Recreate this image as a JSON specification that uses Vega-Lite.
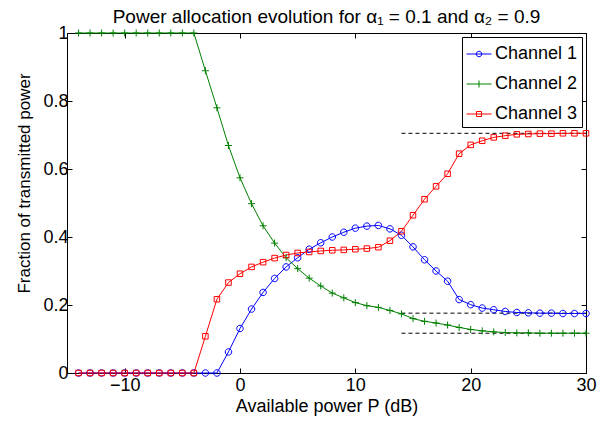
{
  "$schema": "https://vega.github.io/schema/vega-lite/v6.json",
  "width": 519,
  "height": 340,
  "autosize": {"type": "none"},
  "padding": {"left": 67, "top": 33, "right": 25, "bottom": 49},
  "background": "white",
  "title": {
    "text": "Power allocation evolution for α₁ = 0.1 and α₂ = 0.9",
    "font": "Liberation Sans",
    "fontSize": 19,
    "fontWeight": "normal",
    "color": "black",
    "anchor": "middle",
    "frame": "group",
    "offset": 8,
    "dy": 11
  },
  "config": {
    "view": {"stroke": "black", "strokeWidth": 1},
    "axis": {
      "labelFont": "Liberation Sans",
      "titleFont": "Liberation Sans",
      "labelFontSize": 18,
      "titleFontSize": 18,
      "titleFontWeight": "normal",
      "labelColor": "black",
      "titleColor": "black",
      "domain": false,
      "tickColor": "black",
      "gridColor": "#9a9a9a",
      "gridDash": [1, 3],
      "gridWidth": 1
    },
    "legend": {
      "labelFont": "Liberation Sans",
      "labelFontSize": 18,
      "labelColor": "black"
    }
  },
  "datasets": {
    "series": [
      {"P": -14, "ch": "Channel 1", "v": 0}, {"P": -13, "ch": "Channel 1", "v": 0}, {"P": -12, "ch": "Channel 1", "v": 0}, {"P": -11, "ch": "Channel 1", "v": 0}, {"P": -10, "ch": "Channel 1", "v": 0}, {"P": -9, "ch": "Channel 1", "v": 0}, {"P": -8, "ch": "Channel 1", "v": 0}, {"P": -7, "ch": "Channel 1", "v": 0}, {"P": -6, "ch": "Channel 1", "v": 0}, {"P": -5, "ch": "Channel 1", "v": 0}, {"P": -4, "ch": "Channel 1", "v": 0}, {"P": -3, "ch": "Channel 1", "v": 0}, {"P": -2, "ch": "Channel 1", "v": 0},
      {"P": -1, "ch": "Channel 1", "v": 0.062}, {"P": 0, "ch": "Channel 1", "v": 0.131}, {"P": 1, "ch": "Channel 1", "v": 0.188}, {"P": 2, "ch": "Channel 1", "v": 0.237}, {"P": 3, "ch": "Channel 1", "v": 0.278}, {"P": 4, "ch": "Channel 1", "v": 0.312}, {"P": 5, "ch": "Channel 1", "v": 0.339}, {"P": 6, "ch": "Channel 1", "v": 0.364}, {"P": 7, "ch": "Channel 1", "v": 0.383}, {"P": 8, "ch": "Channel 1", "v": 0.400}, {"P": 9, "ch": "Channel 1", "v": 0.414}, {"P": 10, "ch": "Channel 1", "v": 0.426}, {"P": 11, "ch": "Channel 1", "v": 0.432}, {"P": 12, "ch": "Channel 1", "v": 0.434}, {"P": 13, "ch": "Channel 1", "v": 0.424}, {"P": 14, "ch": "Channel 1", "v": 0.405}, {"P": 15, "ch": "Channel 1", "v": 0.371}, {"P": 16, "ch": "Channel 1", "v": 0.333}, {"P": 17, "ch": "Channel 1", "v": 0.300}, {"P": 18, "ch": "Channel 1", "v": 0.270}, {"P": 19, "ch": "Channel 1", "v": 0.216}, {"P": 20, "ch": "Channel 1", "v": 0.201}, {"P": 21, "ch": "Channel 1", "v": 0.191}, {"P": 22, "ch": "Channel 1", "v": 0.186}, {"P": 23, "ch": "Channel 1", "v": 0.181}, {"P": 24, "ch": "Channel 1", "v": 0.178}, {"P": 25, "ch": "Channel 1", "v": 0.177}, {"P": 26, "ch": "Channel 1", "v": 0.176}, {"P": 27, "ch": "Channel 1", "v": 0.176}, {"P": 28, "ch": "Channel 1", "v": 0.175}, {"P": 29, "ch": "Channel 1", "v": 0.175}, {"P": 30, "ch": "Channel 1", "v": 0.175},
      {"P": -14, "ch": "Channel 2", "v": 1}, {"P": -13, "ch": "Channel 2", "v": 1}, {"P": -12, "ch": "Channel 2", "v": 1}, {"P": -11, "ch": "Channel 2", "v": 1}, {"P": -10, "ch": "Channel 2", "v": 1}, {"P": -9, "ch": "Channel 2", "v": 1}, {"P": -8, "ch": "Channel 2", "v": 1}, {"P": -7, "ch": "Channel 2", "v": 1}, {"P": -6, "ch": "Channel 2", "v": 1}, {"P": -5, "ch": "Channel 2", "v": 1}, {"P": -4, "ch": "Channel 2", "v": 1},
      {"P": -3, "ch": "Channel 2", "v": 0.889}, {"P": -2, "ch": "Channel 2", "v": 0.780}, {"P": -1, "ch": "Channel 2", "v": 0.669}, {"P": 0, "ch": "Channel 2", "v": 0.574}, {"P": 1, "ch": "Channel 2", "v": 0.498}, {"P": 2, "ch": "Channel 2", "v": 0.433}, {"P": 3, "ch": "Channel 2", "v": 0.382}, {"P": 4, "ch": "Channel 2", "v": 0.339}, {"P": 5, "ch": "Channel 2", "v": 0.307}, {"P": 6, "ch": "Channel 2", "v": 0.279}, {"P": 7, "ch": "Channel 2", "v": 0.256}, {"P": 8, "ch": "Channel 2", "v": 0.235}, {"P": 9, "ch": "Channel 2", "v": 0.221}, {"P": 10, "ch": "Channel 2", "v": 0.207}, {"P": 11, "ch": "Channel 2", "v": 0.198}, {"P": 12, "ch": "Channel 2", "v": 0.193}, {"P": 13, "ch": "Channel 2", "v": 0.184}, {"P": 14, "ch": "Channel 2", "v": 0.174}, {"P": 15, "ch": "Channel 2", "v": 0.160}, {"P": 16, "ch": "Channel 2", "v": 0.152}, {"P": 17, "ch": "Channel 2", "v": 0.147}, {"P": 18, "ch": "Channel 2", "v": 0.141}, {"P": 19, "ch": "Channel 2", "v": 0.134}, {"P": 20, "ch": "Channel 2", "v": 0.128}, {"P": 21, "ch": "Channel 2", "v": 0.124}, {"P": 22, "ch": "Channel 2", "v": 0.121}, {"P": 23, "ch": "Channel 2", "v": 0.119}, {"P": 24, "ch": "Channel 2", "v": 0.118}, {"P": 25, "ch": "Channel 2", "v": 0.118}, {"P": 26, "ch": "Channel 2", "v": 0.117}, {"P": 27, "ch": "Channel 2", "v": 0.117}, {"P": 28, "ch": "Channel 2", "v": 0.117}, {"P": 29, "ch": "Channel 2", "v": 0.117}, {"P": 30, "ch": "Channel 2", "v": 0.117},
      {"P": -14, "ch": "Channel 3", "v": 0}, {"P": -13, "ch": "Channel 3", "v": 0}, {"P": -12, "ch": "Channel 3", "v": 0}, {"P": -11, "ch": "Channel 3", "v": 0}, {"P": -10, "ch": "Channel 3", "v": 0}, {"P": -9, "ch": "Channel 3", "v": 0}, {"P": -8, "ch": "Channel 3", "v": 0}, {"P": -7, "ch": "Channel 3", "v": 0}, {"P": -6, "ch": "Channel 3", "v": 0}, {"P": -5, "ch": "Channel 3", "v": 0}, {"P": -4, "ch": "Channel 3", "v": 0},
      {"P": -3, "ch": "Channel 3", "v": 0.108}, {"P": -2, "ch": "Channel 3", "v": 0.217}, {"P": -1, "ch": "Channel 3", "v": 0.266}, {"P": 0, "ch": "Channel 3", "v": 0.292}, {"P": 1, "ch": "Channel 3", "v": 0.312}, {"P": 2, "ch": "Channel 3", "v": 0.326}, {"P": 3, "ch": "Channel 3", "v": 0.338}, {"P": 4, "ch": "Channel 3", "v": 0.347}, {"P": 5, "ch": "Channel 3", "v": 0.353}, {"P": 6, "ch": "Channel 3", "v": 0.356}, {"P": 7, "ch": "Channel 3", "v": 0.359}, {"P": 8, "ch": "Channel 3", "v": 0.361}, {"P": 9, "ch": "Channel 3", "v": 0.362}, {"P": 10, "ch": "Channel 3", "v": 0.364}, {"P": 11, "ch": "Channel 3", "v": 0.366}, {"P": 12, "ch": "Channel 3", "v": 0.370}, {"P": 13, "ch": "Channel 3", "v": 0.389}, {"P": 14, "ch": "Channel 3", "v": 0.417}, {"P": 15, "ch": "Channel 3", "v": 0.464}, {"P": 16, "ch": "Channel 3", "v": 0.511}, {"P": 17, "ch": "Channel 3", "v": 0.549}, {"P": 18, "ch": "Channel 3", "v": 0.586}, {"P": 19, "ch": "Channel 3", "v": 0.645}, {"P": 20, "ch": "Channel 3", "v": 0.671}, {"P": 21, "ch": "Channel 3", "v": 0.683}, {"P": 22, "ch": "Channel 3", "v": 0.693}, {"P": 23, "ch": "Channel 3", "v": 0.698}, {"P": 24, "ch": "Channel 3", "v": 0.702}, {"P": 25, "ch": "Channel 3", "v": 0.703}, {"P": 26, "ch": "Channel 3", "v": 0.704}, {"P": 27, "ch": "Channel 3", "v": 0.704}, {"P": 28, "ch": "Channel 3", "v": 0.705}, {"P": 29, "ch": "Channel 3", "v": 0.705}, {"P": 30, "ch": "Channel 3", "v": 0.705}
    ],
    "limits": [
      {"from": 14, "to": 30, "v": 0.705},
      {"from": 14, "to": 30, "v": 0.176},
      {"from": 14, "to": 30, "v": 0.117}
    ]
  },
  "resolve": {
    "scale": {"shape": "independent"},
    "axis": {"x": "independent", "y": "independent"},
    "legend": {"color": "independent", "shape": "independent"}
  },
  "layer": [
    {
      "data": {"name": "limits"},
      "mark": {"type": "rule", "color": "black", "strokeWidth": 1, "strokeDash": [4, 3]},
      "encoding": {
        "x": {"field": "from", "type": "quantitative", "scale": {"domain": [-15, 30], "nice": false},
              "axis": {"orient": "top", "labels": false, "grid": false, "title": null, "values": [-10, 0, 10, 20, 30], "tickSize": -5}},
        "x2": {"field": "to"},
        "y": {"field": "v", "type": "quantitative", "scale": {"domain": [0, 1], "nice": false},
              "axis": {"orient": "right", "labels": false, "grid": false, "title": null, "values": [0, 0.2, 0.4, 0.6, 0.8, 1], "tickSize": -5}}
      }
    },
    {
      "data": {"name": "series"},
      "mark": {"type": "line", "strokeWidth": 1},
      "encoding": {
        "x": {"field": "P", "type": "quantitative", "scale": {"domain": [-15, 30], "nice": false},
              "axis": {"orient": "bottom", "title": "Available power P (dB)", "values": [-10, 0, 10, 20, 30], "format": "d", "tickSize": -5, "labelPadding": 8, "labelFlush": false, "titleBaseline": "alphabetic", "titleY": 38}},
        "y": {"field": "v", "type": "quantitative", "scale": {"domain": [0, 1], "nice": false},
              "axis": {"orient": "left", "title": "Fraction of transmitted power", "values": [0, 0.2, 0.4, 0.6, 0.8, 1], "format": "~g", "tickSize": -5, "labelPadding": 4, "titleFontSize": 17, "titleBaseline": "alphabetic", "titleX": -38, "titleY": 150}},
        "color": {"field": "ch", "type": "nominal", "scale": {"domain": ["Channel 1", "Channel 2", "Channel 3"], "range": ["#0000ff", "#008000", "#ff0000"]}, "legend": null},
        "detail": {"field": "ch"},
        "order": {"field": "P", "type": "quantitative"}
      }
    },
    {
      "data": {"name": "series"},
      "mark": {"type": "point", "filled": false, "strokeWidth": 1, "size": 49, "opacity": 1},
      "encoding": {
        "x": {"field": "P", "type": "quantitative", "scale": {"domain": [-15, 30], "nice": false}, "axis": null},
        "y": {"field": "v", "type": "quantitative", "scale": {"domain": [0, 1], "nice": false}, "axis": null},
        "color": {"field": "ch", "type": "nominal", "scale": {"domain": ["Channel 1", "Channel 2", "Channel 3"], "range": ["#0000ff", "#008000", "#ff0000"]}, "legend": null},
        "shape": {"field": "ch", "type": "nominal", "scale": {"domain": ["Channel 1", "Channel 2", "Channel 3"], "range": ["M0.93,0A0.93,0.93,0,1,1,-0.93,0A0.93,0.93,0,1,1,0.93,0Z", "M-1,0H1M0,-1V1", "M-0.79,-0.79H0.79V0.79H-0.79Z"]}, "legend": null}
      }
    },
    {
      "data": {"name": "series"},
      "mark": {"type": "point", "filled": false, "strokeWidth": 1, "size": 0, "opacity": 1},
      "encoding": {
        "x": {"field": "P", "type": "quantitative", "scale": {"domain": [-15, 30], "nice": false}, "axis": null},
        "y": {"field": "v", "type": "quantitative", "scale": {"domain": [0, 1], "nice": false}, "axis": null},
        "color": {"field": "ch", "type": "nominal", "scale": {"domain": ["Channel 1", "Channel 2", "Channel 3"], "range": ["#0000ff", "#008000", "#ff0000"]},
                  "legend": {"title": null, "orient": "top-right", "offset": 4, "fillColor": "white", "strokeColor": "black", "padding": 4, "symbolSize": 625, "symbolStrokeWidth": 1, "rowPadding": 8, "labelOffset": 3, "labelFontSize": 18, "cornerRadius": 0}},
        "shape": {"field": "ch", "type": "nominal", "scale": {"domain": ["Channel 1", "Channel 2", "Channel 3"], "range": ["M-1,0H1M0.22,0A0.22,0.22,0,1,1,-0.22,0A0.22,0.22,0,1,1,0.22,0Z", "M-1,0H1M0,-0.28V0.28", "M-1,0H1M-0.2,-0.2H0.2V0.2H-0.2Z"]},
                  "legend": {"title": null, "orient": "top-right", "offset": 4, "fillColor": "white", "strokeColor": "black", "padding": 4, "symbolSize": 625, "symbolStrokeWidth": 1, "rowPadding": 8, "labelOffset": 3, "labelFontSize": 18, "cornerRadius": 0}}
      }
    }
  ]
}
